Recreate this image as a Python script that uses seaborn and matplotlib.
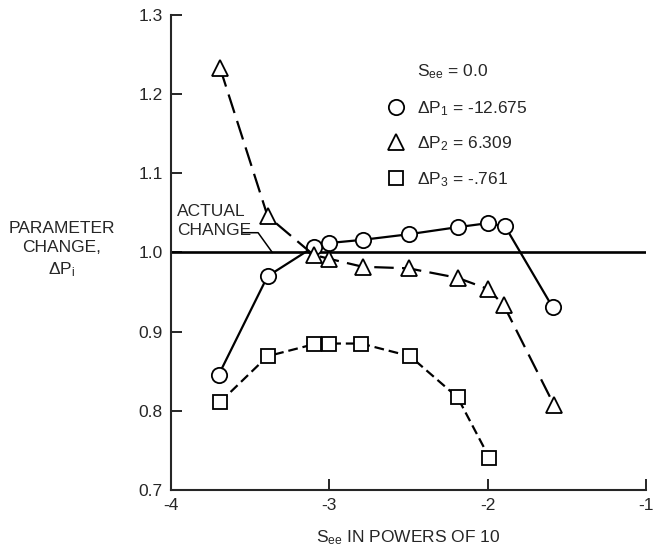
import matplotlib
matplotlib.use("Agg")
import matplotlib.pyplot as plt
import seaborn as sns
from matplotlib.lines import Line2D

# ---------------- data ----------------
x_dp1 = [-3.70, -3.39, -3.10, -3.00, -2.79, -2.50, -2.19, -2.00, -1.89, -1.59]
y_dp1 = [0.845, 0.970, 1.007, 1.012, 1.016, 1.023, 1.032, 1.037, 1.033, 0.931]

x_dp2 = [-3.69, -3.39, -3.10, -3.00, -2.79, -2.50, -2.19, -2.00, -1.90, -1.58]
y_dp2 = [1.233, 1.046, 0.997, 0.992, 0.982, 0.980, 0.968, 0.954, 0.934, 0.807]

x_dp3 = [-3.69, -3.39, -3.10, -3.00, -2.80, -2.49, -2.19, -1.99]
y_dp3 = [0.811, 0.869, 0.884, 0.885, 0.885, 0.869, 0.817, 0.741]

actual_change = 1.0

legend_title = "S$_{ee}$ = 0.0"
legend_labels = ["ΔP$_1$ = -12.675", "ΔP$_2$ = 6.309", "ΔP$_3$ = -.761"]

x_ticks = [-4, -3, -2, -1]
x_ticklabels = ["-4", "-3", "-2", "-1"]
y_ticks = [0.7, 0.8, 0.9, 1.0, 1.1, 1.2, 1.3]
y_ticklabels = ["0.7", "0.8", "0.9", "1.0", "1.1", "1.2", "1.3"]

# ---------------- style ----------------
sns.set_style("ticks")
FAM = ["Liberation Sans Narrow", "Liberation Sans", "DejaVu Sans"]
plt.rcParams["font.family"] = FAM
plt.rcParams["mathtext.fontset"] = "custom"
plt.rcParams["mathtext.rm"] = "Liberation Sans"
plt.rcParams["mathtext.it"] = "Liberation Sans"
plt.rcParams["mathtext.bf"] = "Liberation Sans"
plt.rcParams["lines.scale_dashes"] = False

FS = 12.5
W, H = 656, 553
fig = plt.figure(figsize=(W / 100, H / 100), dpi=100)
ax_l, ax_r, ax_t, ax_b = 171, 646, 15, 490
ax = fig.add_axes([ax_l / W, 1 - ax_b / H, (ax_r - ax_l) / W, (ax_b - ax_t) / H])

mk = dict(color="black", markerfacecolor="white", markeredgecolor="black",
          markeredgewidth=1.3, markersize=11, linewidth=1.6)

sns.lineplot(x=x_dp1, y=y_dp1, ax=ax, marker="o", linestyle="-", **mk)
sns.lineplot(x=x_dp2, y=y_dp2, ax=ax, marker="^", linestyle=(0, (14, 6)), **mk)
sns.lineplot(x=x_dp3, y=y_dp3, ax=ax, marker="s", linestyle=(0, (7, 3.5)),
             **{**mk, "markersize": 10})

ax.axhline(actual_change, color="black", linewidth=1.9, zorder=1)

ax.set_xlim(-4, -1)
ax.set_ylim(0.7, 1.3)
ax.set_xticks(x_ticks)
ax.set_xticklabels(x_ticklabels)
ax.set_yticks(y_ticks)
ax.set_yticklabels(y_ticklabels)
ax.tick_params(direction="in", length=8, width=1.4, labelsize=FS, pad=6)
for s in ["top", "right"]:
    ax.spines[s].set_visible(False)
for s in ["left", "bottom"]:
    ax.spines[s].set_linewidth(1.5)
ax.set_xlabel("S$_{ee}$ IN POWERS OF 10", fontsize=FS, labelpad=11)
ax.set_ylabel("")

fig.text(62 / W, 1 - 250 / H, "PARAMETER\nCHANGE,\nΔP$_i$", fontsize=FS,
         ha="center", va="center", linespacing=1.35)

# ACTUAL CHANGE annotation
ax.text(-3.96, 1.040, "ACTUAL\nCHANGE", fontsize=FS, ha="left", va="center",
        linespacing=1.3)
ax.plot([-3.55, -3.45, -3.36], [1.025, 1.025, 1.0], color="black", linewidth=1.1)

# legend (manual)
rows = [(490 - py) / (ax_b - ax_t) for py in (70, 107, 142, 178)]
x_mk = (396 - ax_l) / (ax_r - ax_l)
x_tx = (417 - ax_l) / (ax_r - ax_l)
base_off = 6 / (ax_b - ax_t)
ax.text(x_tx, rows[0] - base_off, legend_title, transform=ax.transAxes,
        fontsize=FS, ha="left", va="baseline")
for r, lab, m in zip(rows[1:], legend_labels, ["o", "^", "s"]):
    ax.add_line(Line2D([x_mk], [r], transform=ax.transAxes, marker=m,
                       linestyle="none", markerfacecolor="white",
                       markeredgecolor="black", markeredgewidth=1.3,
                       markersize=11 if m != "s" else 10, clip_on=False))
    ax.text(x_tx, r - base_off, lab, transform=ax.transAxes, fontsize=FS,
            ha="left", va="baseline")

fig.savefig("out.png", dpi=100, facecolor="white")
